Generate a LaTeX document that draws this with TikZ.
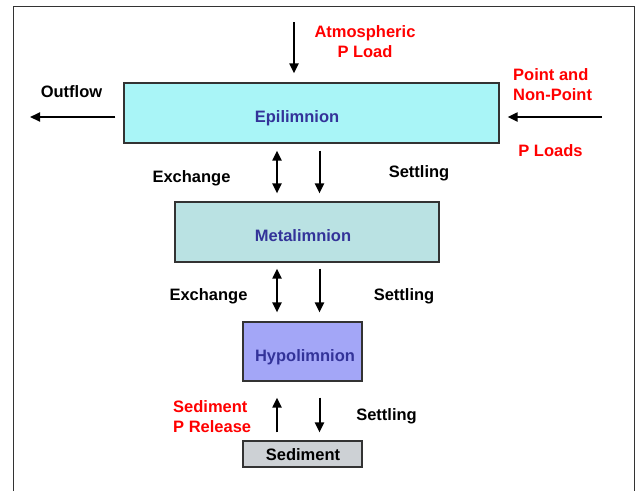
\documentclass[tikz,border=0pt]{standalone}
\usepackage{fontspec}
\setmainfont{Liberation Sans}
\usetikzlibrary{arrows.meta}
\definecolor{epicol}{HTML}{A9F5F7}
\definecolor{metacol}{HTML}{BAE2E3}
\definecolor{hypocol}{HTML}{A3A6F7}
\definecolor{sedcol}{HTML}{CDD1D5}
\definecolor{laybl}{HTML}{333399}
\definecolor{loadred}{HTML}{FF0000}
\definecolor{framecol}{HTML}{333333}
\tikzset{
  layer/.style={draw=framecol, line width=1.2pt, inner sep=0pt},
  laytext/.style={anchor=base, text=laybl, inner sep=0pt},
  blk/.style={anchor=base, text=black, inner sep=0pt},
  redtxt/.style={anchor=base, text=loadred, inner sep=0pt, align=center},
  arr/.style={line width=2pt, -{Triangle[length=10pt,width=9pt]}},
  dbl/.style={line width=2pt, {Triangle[length=10pt,width=9pt]}-{Triangle[length=10pt,width=9pt]}},
}
\begin{document}
\begin{tikzpicture}[x=1pt,y=-1pt,font=\fontsize{16.5}{20}\selectfont\bfseries]
\useasboundingbox (0,0) rectangle (636,491);
\draw[framecol, line width=1pt] (13,491) -- (13,6) -- (634,6) -- (634,491);

% layers
\node[layer, fill=epicol, minimum width=375pt, minimum height=60pt] (epi) at (311.5,113) {};
\node[layer, fill=metacol, minimum width=264pt, minimum height=60pt] (meta) at (307,232) {};
\node[layer, fill=hypocol, minimum width=119pt, minimum height=59pt] (hypo) at (302.5,351.5) {};
\node[layer, fill=sedcol, minimum width=119pt, minimum height=26pt] (sed) at (302.5,454) {};

\node[laytext] (epit) at (297,122) {Epilimnion};
\node[laytext] (metat) at (303,241.5) {Metalimnion};
\node[laytext] (hypot) at (305,361) {Hypolimnion};
\node[blk] (sedt) at (303,460) {Sediment};

% labels (base anchor = last line)
\node[redtxt] (atm) at (365,57) {Atmospheric\\P Load};
\node[blk] (outl) at (71.5,97) {Outflow};
\node[redtxt, align=left, anchor=base west] (pnp) at (513,100) {Point and\\Non-Point};
\node[redtxt] (ploads) at (550.5,156) {P Loads};
\node[blk] (ex1) at (191.5,182) {Exchange};
\node[blk] (st1) at (419,177) {Settling};
\node[blk] (ex2) at (208.5,300.5) {Exchange};
\node[blk] (st2) at (404,300.5) {Settling};
\node[redtxt, align=left, anchor=base west] (spr) at (173,432.5) {Sediment\\P Release};
\node[blk] (st3) at (386.5,420) {Settling};

% arrow coordinates
\coordinate (atmS) at (294,22);
\coordinate (outE) at (30,117);
\coordinate (ptS) at (602,117);
\coordinate (xL) at (277,0);
\coordinate (xR) at (319.5,0);

\draw[arr, shorten >=9pt] (atmS) -- (atmS |- epi.north);
\draw[arr, shorten <=8pt] (epi.west |- outE) -- (outE);
\draw[arr, shorten >=8pt] (ptS) -- (ptS -| epi.east);

\draw[dbl, shorten <=7pt, shorten >=8pt] (epi.south -| xL) -- (meta.north -| xL);
\draw[arr, shorten <=7pt, shorten >=8pt] (epi.south -| xR) -- (meta.north -| xR);

\draw[dbl, shorten <=6pt, shorten >=9pt] (meta.south -| xL) -- (hypo.north -| xL);
\draw[arr, shorten <=6pt, shorten >=9pt] (meta.south -| xR) -- (hypo.north -| xR);

\draw[arr, shorten <=8pt, shorten >=16pt] (sed.north -| xL) -- (hypo.south -| xL);
\draw[arr, shorten <=16pt, shorten >=8pt] (hypo.south -| xR) -- (sed.north -| xR);
\end{tikzpicture}
\end{document}
